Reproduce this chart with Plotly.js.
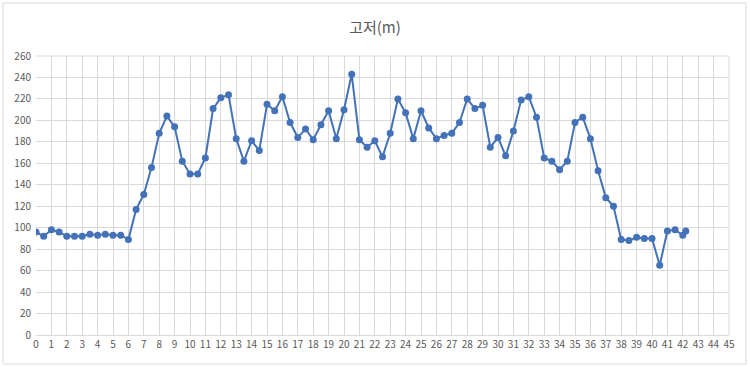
<!DOCTYPE html>
<html>
<head>
<meta charset="utf-8">
<script src="https://cdn.plot.ly/plotly-3.0.1.min.js"></script>
<style>
html,body{margin:0;padding:0;background:#fff;}
#chart{width:750px;height:367px;}
</style>
</head>
<body>
<div id="chart"></div>
<script>
const distanceKm = [0,0.5,1,1.5,2,2.5,3,3.5,4,4.5,5,5.5,6,6.5,7,7.5,8,8.5,9,9.5,10,10.5,11,11.5,12,12.5,13,13.5,14,14.5,15,15.5,16,16.5,17,17.5,18,18.5,19,19.5,20,20.5,21,21.5,22,22.5,23,23.5,24,24.5,25,25.5,26,26.5,27,27.5,28,28.5,29,29.5,30,30.5,31,31.5,32,32.5,33,33.5,34,34.5,35,35.5,36,36.5,37,37.5,38,38.5,39,39.5,40,40.5,41,41.5,42,42.195];
const elevation = [96,92,98,96,92,92,92,94,93,94,93,93,89,117,131,156,188,204,194,162,150,150,165,211,221,224,183,162,181,172,215,209,222,198,184,192,182,196,209,183,210,243,182,175,181,166,188,220,207,183,209,193,183,186,188,198,220,211,214,175,184,167,190,219,222,203,165,162,154,162,198,203,183,153,128,120,89,88,91,90,90,65,97,98,93,97];
const chartTitle = '고저(m)';

const trace = {
  x: distanceKm, y: elevation, type: 'scatter', mode: 'lines+markers',
  line: {color: '#4372b8', width: 2},
  marker: {color: '#4372b8', size: 7},
  hoverinfo: 'x+y'
};
const layout = {
  width: 750, height: 367,
  margin: {l: 36, r: 21, t: 56, b: 32},
  paper_bgcolor: '#fff', plot_bgcolor: '#fff',
  font: {family: 'Noto Sans CJK KR, Noto Sans, sans-serif', color: '#595959', size: 10},
  title: {text: chartTitle, x: 0.5, xanchor: 'center', y: 0.925, yanchor: 'middle',
          font: {size: 15, color: '#595959', family: 'Noto Sans CJK KR, sans-serif'}},
  showlegend: false,
  xaxis: {range: [0, 45], tickmode: 'linear', tick0: 0, dtick: 1, showgrid: true,
          gridcolor: '#d9d9d9', gridwidth: 1, zeroline: false, showline: true,
          linecolor: '#d9d9d9', linewidth: 1, ticks: '', tickfont: {size: 10, color: '#595959'}},
  yaxis: {range: [0, 260], tickmode: 'linear', tick0: 0, dtick: 20, showgrid: true,
          gridcolor: '#d9d9d9', gridwidth: 1, zeroline: false, showline: false,
          ticks: '', ticklabelstandoff: 4, tickfont: {size: 10, color: '#595959'}},
  shapes: [{type: 'rect', xref: 'paper', yref: 'paper', x0: -0.0476, x1: 1.0245, y0: -0.104, y1: 1.19,
            line: {color: '#d9d9d9', width: 1}, fillcolor: 'rgba(0,0,0,0)'},
           {type: 'line', xref: 'paper', yref: 'paper', x0: 1, x1: 1, y0: 0, y1: 1, line: {color: '#d9d9d9', width: 1}},
           {type: 'line', xref: 'paper', yref: 'paper', x0: 0, x1: 1, y0: 1, y1: 1, line: {color: '#d9d9d9', width: 1}}]
};
Plotly.newPlot('chart', [trace], layout, {displayModeBar: false, staticPlot: true});
</script>
</body>
</html>
